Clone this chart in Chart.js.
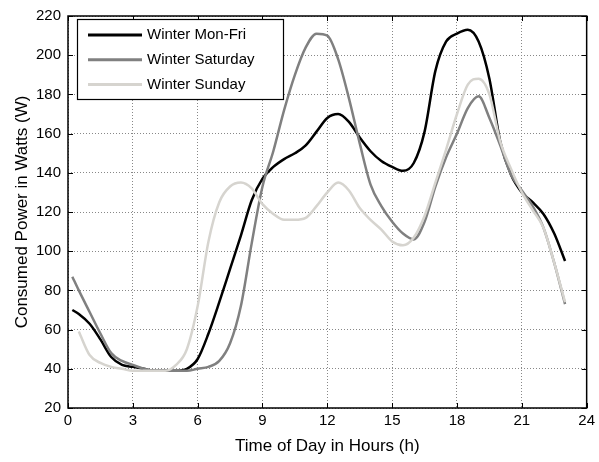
<!DOCTYPE html>
<html>
<head>
<meta charset="utf-8">
<script src="https://cdn.jsdelivr.net/npm/chart.js@4"></script>
<style>
  html, body { margin: 0; padding: 0; background: #fff; }
  #wrap { width: 599px; height: 462px; }
</style>
</head>
<body>
<div id="wrap"><canvas id="myChart" width="599" height="462"></canvas></div>
<script>
// Data
const hours = [0.2, 0.5, 1, 1.5, 2, 2.5, 3, 3.5, 4, 4.5, 5, 5.5, 6, 6.5, 7, 7.5, 8, 8.5, 9, 9.5,
  10, 10.5, 11, 11.5, 12, 12.5, 13, 13.5, 14, 14.5, 15, 15.5, 16, 16.5, 17, 17.5, 18, 18.5, 19, 19.5,
  20, 20.5, 21, 21.5, 22, 22.5, 23];
const monFri = [70, 68, 63, 55, 46, 42, 41, 40, 39, 39, 39, 40, 45, 58, 74, 91, 108, 126, 137, 143,
  147, 150, 154, 161, 168, 170, 166, 158, 151, 146, 143, 141, 145, 161, 192, 207, 211, 213, 207, 188,
  156, 139, 130, 125, 119, 109, 95];
const saturday = [87, 80, 69, 58, 48, 44, 42, 40, 39, 39, 39, 39, 40, 41, 44, 53, 72, 104, 133, 151,
  172, 190, 204, 211, 210, 198, 178, 155, 134, 123, 115, 109, 106, 115, 133, 148, 160, 173, 179, 168,
  154, 139, 131, 123, 112, 94, 73];
const sunday = [null, 59, 47, 43, 41, 40, 39, 39, 39, 39, 42, 50, 72, 105, 125, 133, 135, 132, 124, 119,
  116, 116, 117, 123, 130, 135, 131, 122, 116, 111, 105, 103, 107, 118, 135, 152, 170, 185, 188, 180,
  156, 142, 130, 121, 112, 94, 74];
const seriesNames = ['Winter Mon-Fri', 'Winter Saturday', 'Winter Sunday'];
const seriesColors = ['#000000', '#808080', '#d6d4cf'];
const xTicks = [0, 3, 6, 9, 12, 15, 18, 21, 24];
const yTicks = [20, 40, 60, 80, 100, 120, 140, 160, 180, 200, 220];

const FONT = 'Liberation Sans, Arial, sans-serif';

function pts(vals) {
  return hours.map((h, i) => ({ x: h, y: vals[i] }));
}

// box, inner ticks and legend like the original figure
const boxPlugin = {
  id: 'boxPlugin',
  afterDraw(chart) {
    const c = chart.ctx;
    const a = chart.chartArea;
    const xs = chart.scales.x, ys = chart.scales.y;
    c.save();
    c.strokeStyle = '#000';
    c.lineWidth = 1;
    c.beginPath();
    xTicks.forEach(t => {
      const px = Math.round(xs.getPixelForValue(t)) + 0.5;
      c.moveTo(px, a.bottom); c.lineTo(px, a.bottom - 5);
      c.moveTo(px, a.top); c.lineTo(px, a.top + 5);
    });
    yTicks.forEach(t => {
      const py = Math.round(ys.getPixelForValue(t)) + 0.5;
      c.moveTo(a.left, py); c.lineTo(a.left + 5, py);
      c.moveTo(a.right, py); c.lineTo(a.right - 5, py);
    });
    c.stroke();
    c.lineWidth = 1.5;
    c.strokeRect(a.left, a.top, a.right - a.left, a.bottom - a.top);

    // legend, in the original series order
    const lx = 77, ly = 19, lw = 206, lh = 80;
    c.fillStyle = '#fff';
    c.fillRect(lx, ly, lw, lh);
    c.lineWidth = 1.2;
    c.strokeRect(lx + 0.5, ly + 0.5, lw, lh);
    c.font = '15px ' + FONT;
    c.textBaseline = 'middle';
    seriesNames.forEach((name, i) => {
      const y = ly + 16 + i * 24.8;
      c.strokeStyle = seriesColors[i];
      c.lineWidth = 3;
      c.beginPath();
      c.moveTo(lx + 11, y); c.lineTo(lx + 65, y);
      c.stroke();
      c.fillStyle = '#000';
      c.fillText(name, lx + 70, y);
    });
    c.restore();
  }
};

const ctx = document.getElementById('myChart');
new Chart(ctx, {
  type: 'line',
  data: {
    // Sunday last in the array is drawn first by Chart.js, so reverse to keep it on top
    datasets: [
      { label: seriesNames[0], data: pts(monFri), borderColor: seriesColors[0], borderWidth: 2.5 },
      { label: seriesNames[1], data: pts(saturday), borderColor: seriesColors[1], borderWidth: 2.5 },
      { label: seriesNames[2], data: pts(sunday), borderColor: seriesColors[2], borderWidth: 2.5 }
    ].reverse()
  },
  options: {
    responsive: false,
    animation: false,
    layout: { padding: { left: 0, right: 9, top: 10, bottom: 0 } },
    elements: {
      point: { radius: 0 },
      line: { cubicInterpolationMode: 'monotone', fill: false }
    },
    plugins: { legend: { display: false }, tooltip: { enabled: false } },
    scales: {
      x: {
        type: 'linear', min: 0, max: 24,
        afterBuildTicks: s => { s.ticks = xTicks.map(v => ({ value: v })); },
        afterFit: s => { s.height = 54; },
        grid: { color: '#888', lineWidth: 1, drawTicks: false },
        border: { display: false, dash: [1, 2] },
        ticks: { color: '#000', padding: 4, font: { family: FONT, size: 15 } },
        title: { display: true, text: 'Time of Day in Hours (h)', color: '#000',
          padding: { top: 0, bottom: 5 }, font: { family: FONT, size: 17 } }
      },
      y: {
        min: 20, max: 220,
        afterBuildTicks: s => { s.ticks = yTicks.map(v => ({ value: v })); },
        afterFit: s => { s.width = 68; },
        grid: { color: '#888', lineWidth: 1, drawTicks: false },
        border: { display: false, dash: [1, 2] },
        ticks: { color: '#000', padding: 7, font: { family: FONT, size: 15 } },
        title: { display: true, text: 'Consumed Power in Watts (W)', color: '#000',
          padding: { top: 12, bottom: 0 }, font: { family: FONT, size: 17 } }
      }
    }
  },
  plugins: [boxPlugin]
});
</script>
</body>
</html>
